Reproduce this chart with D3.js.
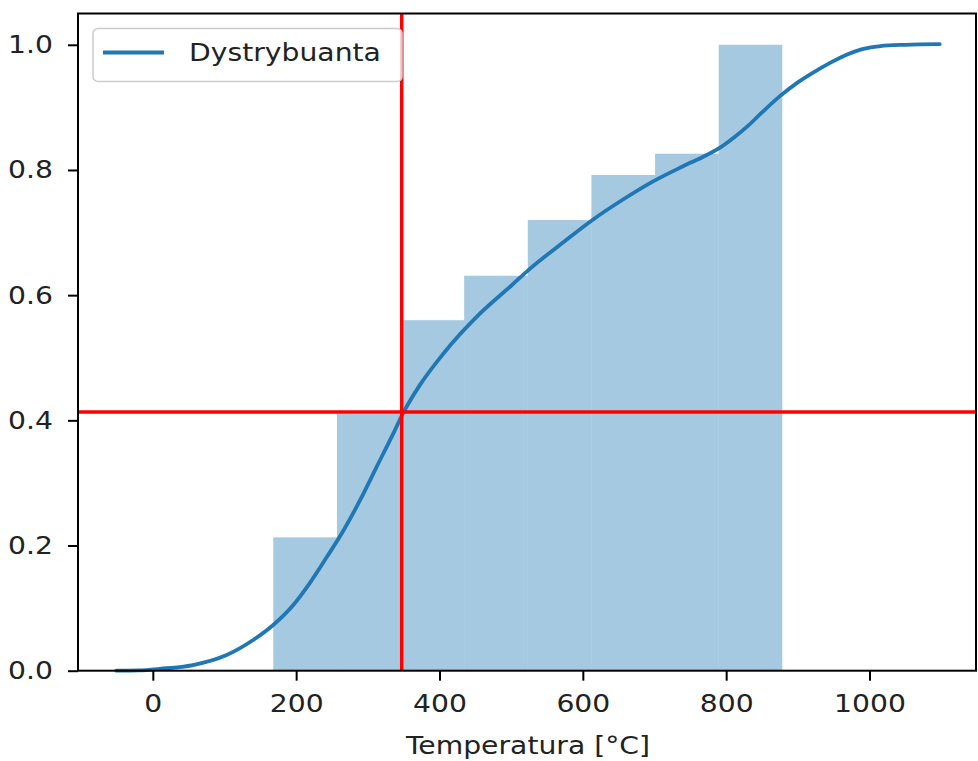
<!DOCTYPE html>
<html>
<head>
<meta charset="utf-8">
<script src="https://d3js.org/d3.v7.min.js"></script>
<style>
  body { margin: 0; background: #fff; }
  text { font-family: "DejaVu Sans", sans-serif; }
</style>
</head>
<body>
<div id="container"></div>
<script>
// histogram (cumulative) - bin edges and heights
var binEdges = [168.1, 256.9, 345.7, 434.4, 523.2, 612.0, 700.8, 789.6, 878.3];
var binValues = [0.213, 0.411, 0.560, 0.631, 0.720, 0.792, 0.826, 1.0];

// dystrybuanta curve
var cdfX = [-51, -20, 10, 56, 103, 140, 168, 196, 219, 243, 266, 289, 312, 336, 349, 373, 405, 456, 500, 526, 570, 612, 655, 700, 740, 773, 792, 810, 830, 850, 875, 900, 922, 945, 968, 990, 1015, 1050, 1098];
var cdfY = [0.0, 0.0005, 0.003, 0.009, 0.025, 0.049, 0.073, 0.105, 0.140, 0.182, 0.224, 0.272, 0.325, 0.380, 0.411, 0.457, 0.506, 0.570, 0.615, 0.642, 0.682, 0.719, 0.752, 0.783, 0.806, 0.824, 0.836, 0.851, 0.870, 0.892, 0.918, 0.940, 0.956, 0.971, 0.984, 0.993, 0.998, 1.0, 1.001];

// red marker lines
var markX = 347.3;
var markY = 0.4133;

var xTicks = [0, 200, 400, 600, 800, 1000];
var yTicks = [0.0, 0.2, 0.4, 0.6, 0.8, 1.0];

var W = 978, H = 761,
    margin = {top: 13.5, right: 2, bottom: 90.3, left: 78},
    width = W - margin.left - margin.right,
    height = H - margin.top - margin.bottom;

var sx = 1.13; // text in the picture is a bit wider than plain DejaVu

var svg = d3.select("div#container").append("svg").attr("width", W).attr("height", H);
var g = svg.append("g").attr("transform", "translate(" + margin.left + "," + margin.top + ")");

var xScale = d3.scaleLinear().domain([-104.4, 1148.6]).range([0, width]);
var yScale = d3.scaleLinear().domain([0, 1.05]).range([height, 0]);

var blue = "#1f77b4";

// bars
var bins = binValues.map(function(v, i) { return {x0: binEdges[i], x1: binEdges[i + 1], v: v}; });
g.selectAll("rect.bar").data(bins).enter().append("rect")
  .attr("class", "bar")
  .attr("x", function(d) { return xScale(d.x0); })
  .attr("width", function(d) { return xScale(d.x1) - xScale(d.x0); })
  .attr("y", function(d) { return yScale(d.v); })
  .attr("height", function(d) { return height - yScale(d.v); })
  .attr("fill", blue)
  .attr("fill-opacity", 0.4);

// curve
var line = d3.line()
  .curve(d3.curveMonotoneX)
  .x(function(d) { return xScale(d[0]); })
  .y(function(d) { return yScale(d[1]); });
g.append("path")
  .datum(d3.zip(cdfX, cdfY))
  .attr("d", line)
  .attr("fill", "none")
  .attr("stroke", blue)
  .attr("stroke-width", 3.8)
  .attr("stroke-linecap", "round");

// red lines across whole axes
g.append("line")
  .attr("x1", xScale(markX)).attr("x2", xScale(markX))
  .attr("y1", 0).attr("y2", height)
  .attr("stroke", "red").attr("stroke-width", 3.5);
g.append("line")
  .attr("x1", 0).attr("x2", width)
  .attr("y1", yScale(markY)).attr("y2", yScale(markY))
  .attr("stroke", "red").attr("stroke-width", 3.5);

// axes
var xAxis = d3.axisBottom(xScale).tickValues(xTicks).tickFormat(d3.format("d")).tickSize(10).tickPadding(14);
var yAxis = d3.axisLeft(yScale).tickValues(yTicks).tickFormat(d3.format(".1f")).tickSize(10).tickPadding(15);

var gx = g.append("g").attr("transform", "translate(0," + height + ")").call(xAxis);
var gy = g.append("g").call(yAxis);
[gx, gy].forEach(function(a) {
  a.select(".domain").remove();
  a.selectAll(".tick line").attr("stroke", "#000").attr("stroke-width", 2);
  a.selectAll(".tick text").attr("fill", "#222").style("font-size", "25px")
    .attr("transform", "scale(" + sx + ",1)");
});
gy.selectAll(".tick text").attr("x", -25 / sx);

// frame
g.append("rect")
  .attr("width", width).attr("height", height)
  .attr("fill", "none").attr("stroke", "#000").attr("stroke-width", 2);

// x label
g.append("text")
  .attr("x", (width / 2 + 1) / sx).attr("y", height + 83)
  .attr("transform", "scale(" + sx + ",1)")
  .attr("text-anchor", "middle")
  .attr("fill", "#222")
  .style("font-size", "25px")
  .text("Temperatura [°C]");

// legend
var lg = g.append("g").attr("transform", "translate(15,15)");
lg.append("rect")
  .attr("width", 309).attr("height", 53).attr("rx", 5)
  .attr("fill", "#fff").attr("fill-opacity", 0.8)
  .attr("stroke", "#ccc").attr("stroke-width", 1.5);
lg.append("line")
  .attr("x1", 10).attr("x2", 71).attr("y1", 24).attr("y2", 24)
  .attr("stroke", blue).attr("stroke-width", 3.8);
lg.append("text")
  .attr("x", 96 / sx).attr("y", 33)
  .attr("transform", "scale(" + sx + ",1)")
  .attr("fill", "#222")
  .style("font-size", "25px")
  .text("Dystrybuanta");
</script>
</body>
</html>
